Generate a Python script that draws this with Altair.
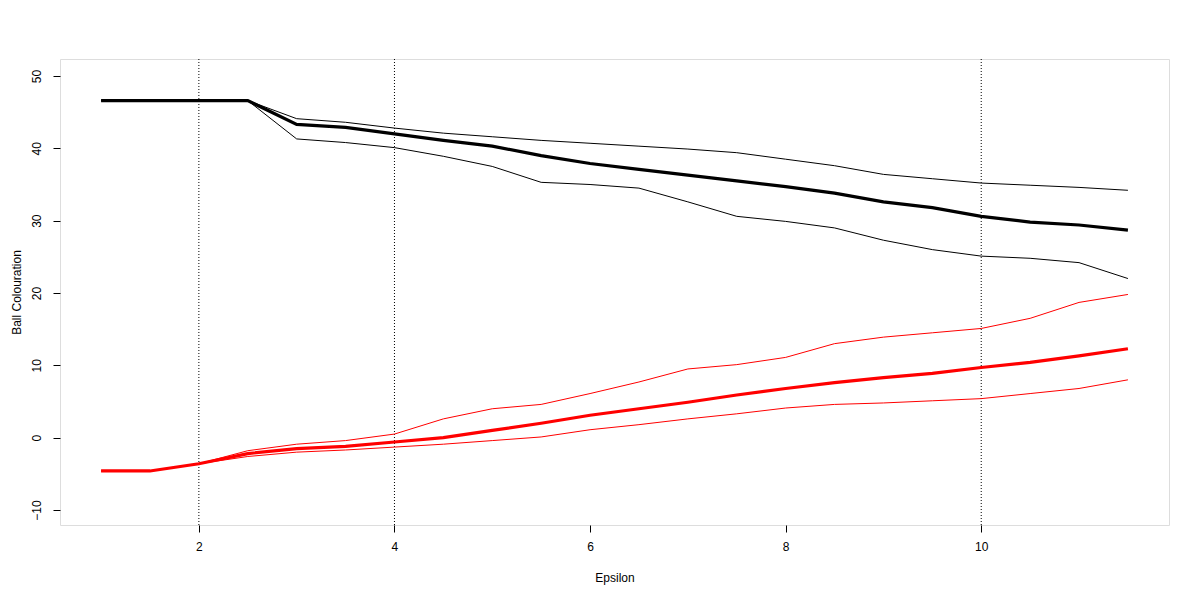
import altair as alt
import pandas as pd

epsilon = [1, 1.5, 2, 2.5, 3, 3.5, 4, 4.5, 5, 5.5, 6, 6.5, 7, 7.5, 8, 8.5, 9, 9.5, 10, 10.5, 11, 11.5]

black_mean = [46.6, 46.6, 46.6, 46.6, 43.3, 42.9, 42.0, 41.1, 40.3, 39.0, 37.9, 37.1, 36.3, 35.5, 34.7, 33.8, 32.6, 31.8, 30.6, 29.8, 29.4, 28.7]
black_upper = [46.6, 46.6, 46.6, 46.6, 44.1, 43.6, 42.8, 42.1, 41.6, 41.1, 40.7, 40.3, 39.9, 39.4, 38.5, 37.6, 36.4, 35.8, 35.2, 34.9, 34.6, 34.2]
black_lower = [46.6, 46.6, 46.6, 46.6, 41.3, 40.8, 40.1, 38.9, 37.5, 35.3, 35.0, 34.5, 32.6, 30.6, 29.9, 29.0, 27.3, 26.0, 25.1, 24.8, 24.2, 22.0]

red_mean = [-4.6, -4.6, -3.6, -2.2, -1.5, -1.2, -0.6, 0.0, 1.0, 2.0, 3.1, 4.0, 4.9, 5.9, 6.8, 7.6, 8.3, 8.9, 9.7, 10.4, 11.3, 12.3]
red_upper = [-4.6, -4.6, -3.6, -1.8, -0.9, -0.4, 0.5, 2.6, 4.0, 4.6, 6.1, 7.7, 9.5, 10.1, 11.1, 13.0, 13.9, 14.5, 15.1, 16.5, 18.7, 19.8]
red_lower = [-4.6, -4.6, -3.6, -2.6, -2.0, -1.7, -1.3, -0.9, -0.4, 0.1, 1.1, 1.8, 2.6, 3.3, 4.1, 4.6, 4.8, 5.1, 5.4, 6.1, 6.8, 8.0]

vlines = [2, 4, 10]
x_ticks = [2, 4, 6, 8, 10]
y_ticks = [-10, 0, 10, 20, 30, 40, 50]

rows = []
for name, vals, color, width in [
    ("black_upper", black_upper, "black", 1),
    ("black_lower", black_lower, "black", 1),
    ("black_mean", black_mean, "black", 3.2),
    ("red_upper", red_upper, "red", 1),
    ("red_lower", red_lower, "red", 1),
    ("red_mean", red_mean, "red", 3.2),
]:
    for e, v in zip(epsilon, vals):
        rows.append({"series": name, "eps": e, "val": v, "color": color, "w": width})
df = pd.DataFrame(rows)

font = "Liberation Sans"
xscale = alt.Scale(domain=[0.58, 11.92], nice=False, zero=False)
yscale = alt.Scale(domain=[-12.07, 52.35], nice=False, zero=False)

xaxis = alt.Axis(values=x_ticks, title="Epsilon", grid=False, domain=False,
                 tickColor="black", tickSize=7, labelColor="black",
                 labelFont=font, labelFontSize=12, labelPadding=9,
                 titleFont=font, titleFontSize=12, titleFontWeight="normal",
                 titleColor="black", titleY=52, titleBaseline="middle")
yaxis = alt.Axis(values=y_ticks, title="Ball Colouration", grid=False, domain=False,
                 tickColor="black", tickSize=7, labelColor="black",
                 labelFont=font, labelFontSize=12, labelPadding=10,
                 labelAngle=270, labelAlign="center", labelBaseline="bottom",
                 titleFont=font, titleFontSize=12, titleFontWeight="normal",
                 titleColor="black", titleX=-44, titleAngle=270,
                 titleBaseline="middle", titleAlign="center")

vdf = pd.DataFrame({"x": vlines})
vrules = alt.Chart(vdf).mark_rule(color="black", strokeWidth=1, strokeDash=[1, 2]).encode(
    x=alt.X("x:Q", scale=xscale, axis=xaxis)
)

lines = alt.Chart(df).mark_line(strokeCap="butt", strokeJoin="miter").encode(
    x=alt.X("eps:Q", scale=xscale, axis=xaxis),
    y=alt.Y("val:Q", scale=yscale, axis=yaxis),
    detail="series:N",
    color=alt.Color("color:N", scale=None),
    strokeWidth=alt.StrokeWidth("w:Q", scale=None),
)

chart = alt.layer(vrules, lines).properties(
    width=1109, height=466,
    autosize=alt.AutoSizeParams(type="none"),
    padding={"left": 52, "top": 51, "right": 20, "bottom": 60},
).configure_view(stroke="black", strokeWidth=1).configure(background="white")

chart.save("out.html", embed_options={"renderer": "svg", "actions": False})
